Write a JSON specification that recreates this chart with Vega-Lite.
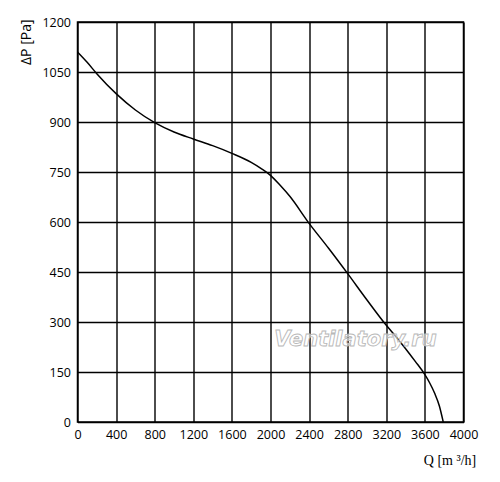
{
  "$schema": "https://vega.github.io/schema/vega-lite/v6.json",
  "width": 386,
  "height": 400,
  "autosize": {"type": "none"},
  "padding": {"left": 77.5, "top": 22, "right": 36.5, "bottom": 60},
  "background": "white",
  "config": {
    "view": {"stroke": "black", "strokeWidth": 1.5},
    "axis": {
      "labelFont": "Open Sans",
      "labelFontSize": 12.5,
      "labelColor": "black",
      "labelOverlap": false,
      "gridColor": "black",
      "gridOpacity": 1,
      "gridWidth": 1.4,
      "domain": false,
      "ticks": false
    }
  },
  "datasets": {
    "curve": [
      {"Q": 0, "P": 1110},
      {"Q": 100, "P": 1079},
      {"Q": 200, "P": 1045},
      {"Q": 400, "P": 985},
      {"Q": 600, "P": 936},
      {"Q": 800, "P": 898},
      {"Q": 1000, "P": 870},
      {"Q": 1200, "P": 849},
      {"Q": 1400, "P": 829},
      {"Q": 1600, "P": 806},
      {"Q": 1800, "P": 779},
      {"Q": 1900, "P": 761},
      {"Q": 2000, "P": 740},
      {"Q": 2100, "P": 710},
      {"Q": 2200, "P": 677},
      {"Q": 2400, "P": 596},
      {"Q": 2600, "P": 522},
      {"Q": 2800, "P": 445},
      {"Q": 3000, "P": 366},
      {"Q": 3200, "P": 290},
      {"Q": 3300, "P": 256},
      {"Q": 3400, "P": 220},
      {"Q": 3500, "P": 182},
      {"Q": 3600, "P": 142},
      {"Q": 3650, "P": 117},
      {"Q": 3700, "P": 87},
      {"Q": 3750, "P": 48},
      {"Q": 3790, "P": 0}
    ],
    "mark": [{"Q": 2880, "P": 245, "label": "Ventilatory.ru"}]
  },
  "layer": [
    {
      "data": {"name": "curve"},
      "mark": {"type": "line", "color": "black", "strokeWidth": 1.5, "interpolate": "monotone"},
      "encoding": {
        "x": {
          "field": "Q", "type": "quantitative",
          "scale": {"domain": [0, 4000], "nice": false},
          "axis": {
            "values": [0, 400, 800, 1200, 1600, 2000, 2400, 2800, 3200, 3600, 4000],
            "tickCount": 30,
            "format": "d",
            "labelPadding": 6,
            "labelFlush": false,
            "title": "Q [m ³/h]",
            "titleFont": "Liberation Serif",
            "titleFontSize": 14,
            "titleFontWeight": "normal",
            "titleColor": "black",
            "titleX": 372,
            "titleY": 38,
            "titleAlign": "center",
            "titleBaseline": "middle"
          }
        },
        "y": {
          "field": "P", "type": "quantitative",
          "scale": {"domain": [0, 1200], "nice": false},
          "axis": {
            "values": [0, 150, 300, 450, 600, 750, 900, 1050, 1200],
            "tickCount": 30,
            "format": "d",
            "labelPadding": 7,
            "labelFlush": false,
            "title": "ΔP  [Pa]",
            "titleFont": "Open Sans",
            "titleFontSize": 14,
            "titleFontWeight": "normal",
            "titleColor": "black",
            "titleAngle": -90,
            "titleX": -51,
            "titleY": -3,
            "titleAlign": "right",
            "titleBaseline": "middle"
          }
        }
      }
    },
    {
      "data": {"name": "mark"},
      "mark": {
        "type": "text",
        "font": "DejaVu Sans",
        "fontSize": 21,
        "fontStyle": "italic",
        "fontWeight": "bold",
        "fill": "white",
        "fillOpacity": 0.6,
        "stroke": "#b8b8b8",
        "strokeWidth": 0.9,
        "align": "center",
        "baseline": "middle"
      },
      "encoding": {
        "x": {"field": "Q", "type": "quantitative"},
        "y": {"field": "P", "type": "quantitative"},
        "text": {"field": "label"}
      }
    }
  ]
}
